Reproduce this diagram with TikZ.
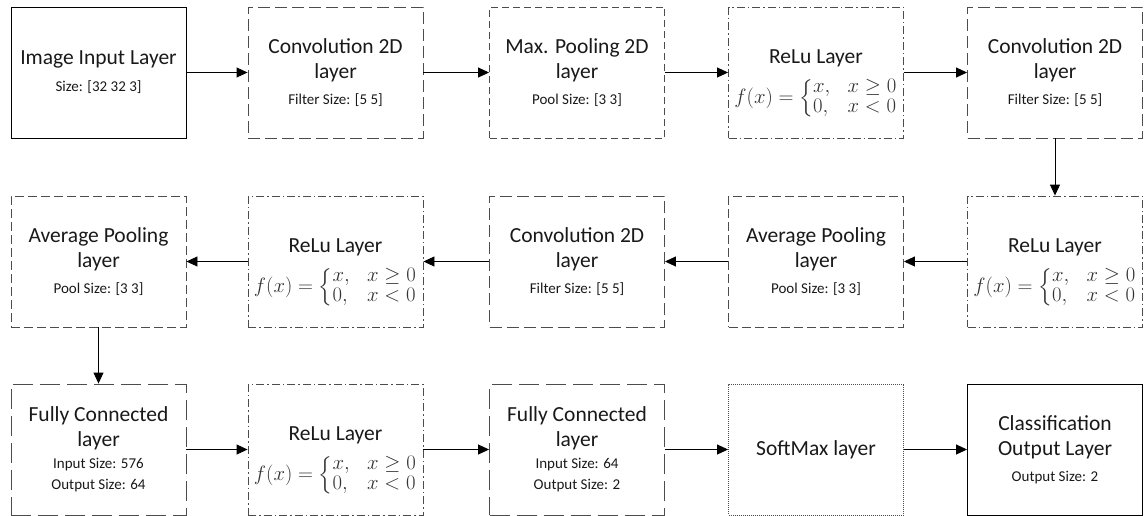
\documentclass[tikz,border=0pt]{standalone}
\usepackage{amsmath}
\usepackage{fontspec}
\setmainfont{Carlito}
\usetikzlibrary{arrows.meta}
\newcommand{\ttl}{\fontsize{21.5}{25}\selectfont}
\newcommand{\sml}{\fontsize{15}{22}\selectfont}
\newcommand{\relufn}{{\fontsize{19.5}{23}\selectfont\renewcommand{\arraystretch}{0.86}$f(x)=\left\{\begin{array}{@{}l@{\;\;\;}l@{}}x, & x\geq 0\\ 0, & x<0\end{array}\right.$}}
\begin{document}
\begin{tikzpicture}[x=1pt,y=-1pt,
  box/.style={draw, line width=0.9pt, minimum width=175pt, minimum height=131pt, align=center, inner sep=0pt, font=\ttl, text=black!90},
  solidbox/.style={box, draw=black},
  convbox/.style={box, draw=black!70, dash pattern=on 12pt off 5pt},
  poolbox/.style={box, draw=black!70, dash pattern=on 7pt off 4pt},
  avgbox/.style={box, draw=black!70, dash pattern=on 9pt off 4pt},
  relubox/.style={box, draw=black!70, dash pattern=on 8pt off 3pt on 1.5pt off 3pt},
  fcbox/.style={box, draw=black!70, dash pattern=on 20pt off 7pt},
  softbox/.style={box, draw=black!70, dash pattern=on 1pt off 1pt},
  relut/.style={font=\ttl, text=black!90, inner sep=0pt, yshift=14pt},
  reluf/.style={text=black!80, inner sep=0pt, yshift=-26pt},
  arr/.style={-{Triangle[length=11pt,width=10pt]}, line width=0.9pt, black}
]
\useasboundingbox (0,0) rectangle (1144,515);
% row 1
\node[solidbox] (a1) at (98.5,72.5) {Image Input Layer\\[2pt]{\sml Size: [32 32 3]}};
\node[convbox] (a2) at (335.5,72.5) {Convolution 2D\\layer\\[1pt]{\sml Filter Size: [5 5]}};
\node[poolbox] (a3) at (577,72.5) {Max. Pooling 2D\\layer\\[1pt]{\sml Pool Size: [3 3]}};
\node[relubox] (a4) at (816,72.5) {};
\node[relut] (a4t) at (a4.center) {ReLu Layer};
\node[reluf] (a4f) at (a4.center) {\relufn};
\node[convbox] (a5) at (1055,72.5) {Convolution 2D\\layer\\[1pt]{\sml Filter Size: [5 5]}};
% row 2
\node[relubox] (b5) at (1055,261.5) {};
\node[relut] (b5t) at (b5.center) {ReLu Layer};
\node[reluf] (b5f) at (b5.center) {\relufn};
\node[avgbox] (b4) at (816,261.5) {Average Pooling\\layer\\[1pt]{\sml Pool Size: [3 3]}};
\node[convbox] (b3) at (577,261.5) {Convolution 2D\\layer\\[1pt]{\sml Filter Size: [5 5]}};
\node[relubox] (b2) at (335.5,261.5) {};
\node[relut] (b2t) at (b2.center) {ReLu Layer};
\node[reluf] (b2f) at (b2.center) {\relufn};
\node[avgbox] (b1) at (98.5,261.5) {Average Pooling\\layer\\[1pt]{\sml Pool Size: [3 3]}};
% row 3
\node[fcbox] (c1) at (98.5,449.5) {Fully Connected\\layer\\[-3pt]{\sml Input Size: 576}\\[-4pt]{\sml Output Size: 64}};
\node[relubox] (c2) at (335.5,449.5) {};
\node[relut] (c2t) at (c2.center) {ReLu Layer};
\node[reluf] (c2f) at (c2.center) {\relufn};
\node[fcbox] (c3) at (577,449.5) {Fully Connected\\layer\\[-3pt]{\sml Input Size: 64}\\[-4pt]{\sml Output Size: 2}};
\node[softbox] (c4) at (816,449.5) {SoftMax layer};
\node[solidbox] (c5) at (1055,449.5) {Classification\\Output Layer\\[1pt]{\sml Output Size: 2}};
% arrows
\draw[arr] (a1.east) -- (a2.west);
\draw[arr] (a2.east) -- (a3.west);
\draw[arr] (a3.east) -- (a4.west);
\draw[arr] (a4.east) -- (a5.west);
\draw[arr] (a5.south) -- (b5.north);
\draw[arr] (b5.west) -- (b4.east);
\draw[arr] (b4.west) -- (b3.east);
\draw[arr] (b3.west) -- (b2.east);
\draw[arr] (b2.west) -- (b1.east);
\draw[arr] (b1.south) -- (c1.north);
\draw[arr] (c1.east) -- (c2.west);
\draw[arr] (c2.east) -- (c3.west);
\draw[arr] (c3.east) -- (c4.west);
\draw[arr] (c4.east) -- (c5.west);
\end{tikzpicture}
\end{document}
